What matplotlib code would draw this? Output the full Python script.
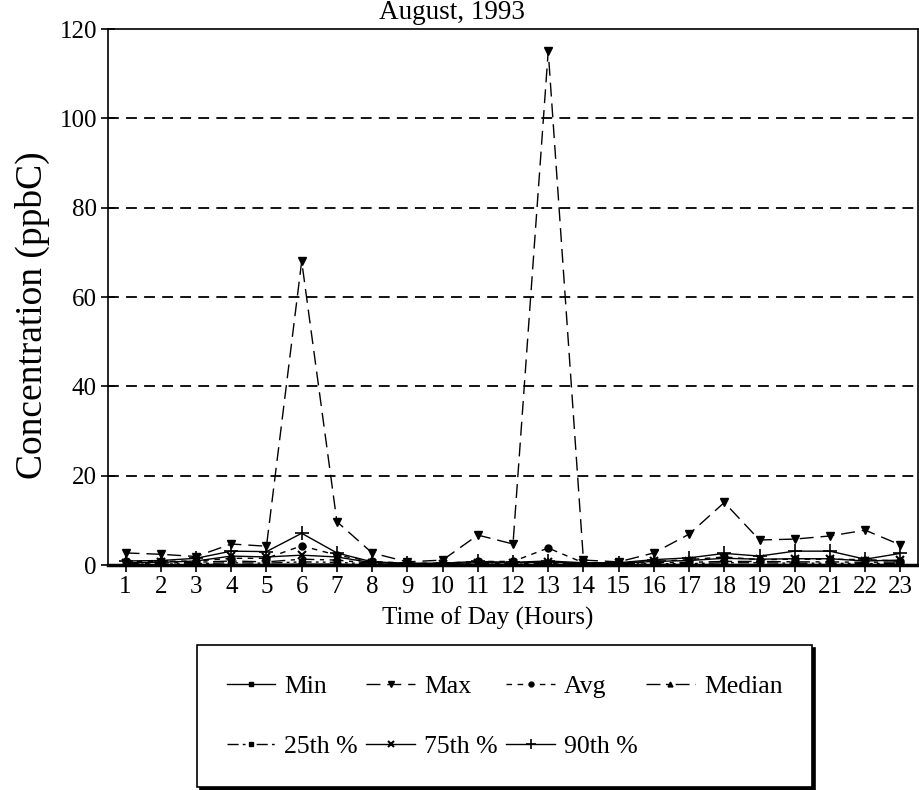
import matplotlib
matplotlib.use("Agg")
import matplotlib.pyplot as plt

hours = list(range(1, 24))
max_v = [2.7, 2.4, 1.9, 4.7, 4.2, 68, 9.7, 2.7, 0.7, 1.1, 6.7, 4.7, 115, 1.1, 0.7, 2.7, 6.9, 14, 5.6, 5.8, 6.5, 7.8, 4.5]
avg_v = [0.8, 0.8, 0.9, 1.5, 1.5, 4.3, 2.2, 0.8, 0.4, 0.4, 0.8, 0.8, 3.8, 0.5, 0.4, 0.8, 1.2, 1.8, 1.2, 1.3, 1.3, 1.2, 0.9]
p90_v = [0.9, 1.0, 1.5, 3.1, 3.0, 7.1, 2.7, 0.7, 0.4, 0.4, 0.8, 0.6, 0.9, 0.5, 0.5, 1.2, 1.6, 2.6, 2.0, 3.1, 3.1, 1.3, 2.6]
p75_v = [0.5, 0.6, 0.9, 2.0, 1.8, 2.2, 1.8, 0.5, 0.3, 0.3, 0.5, 0.5, 0.6, 0.4, 0.4, 0.8, 1.0, 1.5, 1.3, 1.4, 1.4, 0.9, 1.1]
med_v = [0.4, 0.4, 0.6, 0.9, 0.7, 1.3, 1.1, 0.4, 0.2, 0.2, 0.3, 0.3, 0.4, 0.3, 0.3, 0.5, 0.6, 0.8, 0.8, 0.7, 0.7, 0.6, 0.7]
p25_v = [0.2, 0.2, 0.3, 0.5, 0.4, 0.7, 0.6, 0.2, 0.1, 0.1, 0.2, 0.2, 0.2, 0.2, 0.2, 0.3, 0.3, 0.5, 0.5, 0.4, 0.4, 0.3, 0.4]
min_v = [0.0, 0.0, 0.1, 0.1, 0.1, 0.2, 0.2, 0.0, 0.0, 0.0, 0.0, 0.0, 0.0, 0.0, 0.0, 0.1, 0.1, 0.1, 0.1, 0.1, 0.1, 0.1, 0.1]
y_ticks = [0, 20, 40, 60, 80, 100, 120]

plt.rcParams['font.family'] = ['Liberation Serif', 'DejaVu Serif']

W, H = 919, 790
fig = plt.figure(figsize=(W / 100, H / 100), dpi=100)
ax = fig.add_axes([108 / W, 1 - 565 / H, (918 - 108) / W, (565 - 29) / H])

for y in y_ticks[1:-1]:
    ax.axhline(y, color='black', lw=1.3, ls=(0, (6, 4)), zorder=1)

lw = 1.0
h_min, = ax.plot(hours, min_v, color='black', lw=lw, ls='-', marker='s', ms=5, label='Min')
h_max, = ax.plot(hours, max_v, color='black', lw=lw, ls=(0, (10, 5)), marker='v', ms=6, label='Max')
h_avg, = ax.plot(hours, avg_v, color='black', lw=lw, ls=(0, (4, 4)), marker='o', ms=5, label='Avg')
h_med, = ax.plot(hours, med_v, color='black', lw=lw, ls=(0, (10, 4, 3, 4)), marker='^', ms=5, label='Median')
h_25, = ax.plot(hours, p25_v, color='black', lw=lw, ls=(0, (8, 3, 2, 3, 2, 3)), marker='s', ms=4, label='25th %')
h_75, = ax.plot(hours, p75_v, color='black', lw=lw, ls='-', marker='x', ms=6, mew=1.5, label='75th %')
h_90, = ax.plot(hours, p90_v, color='black', lw=lw, ls='-', marker='+', ms=10, mew=1.2, label='90th %')

ax.set_xlim(0.5, 23.5)
ax.set_ylim(0, 120)
ax.set_xticks(hours)
ax.set_yticks(y_ticks)
ax.tick_params(axis='both', direction='inout', length=10, width=1.2, labelsize=18, colors='black')
ax.tick_params(axis='x', pad=3)
ax.tick_params(axis='y', pad=3)
for s in ['left', 'top', 'right']:
    ax.spines[s].set_linewidth(1.2)
ax.spines['bottom'].set_linewidth(2.5)

fig.text(382 / W, 1 - 618 / H, 'Time of Day (Hours)', ha='left', va='center', fontsize=18)
fig.text(32 / W, 1 - 315 / H, 'Concentration (ppbC)', ha='center', va='center', rotation=90, fontsize=27)
fig.text(452 / W, 1 - 19 / H, 'August, 1993', ha='center', va='baseline', fontsize=19.5)

handles = [h_min, h_25, h_max, h_75, h_avg, h_90, h_med]
leg = fig.legend(handles=handles, labels=[h.get_label() for h in handles], ncol=4,
                 loc='upper left', bbox_to_anchor=(197 / W, 0.0, (812 - 197) / W, 1 - 645 / H),
                 mode='expand', fontsize=18.5,
                 frameon=True, fancybox=False, edgecolor='black',
                 shadow={'color': 'black', 'alpha': 1},
                 handlelength=1.9, handletextpad=0.35, columnspacing=1.0, labelspacing=1.45,
                 borderpad=1.15, borderaxespad=0.0, markerscale=0.7)
leg.get_frame().set_linewidth(1.2)

fig.savefig('out.png', dpi=100)
